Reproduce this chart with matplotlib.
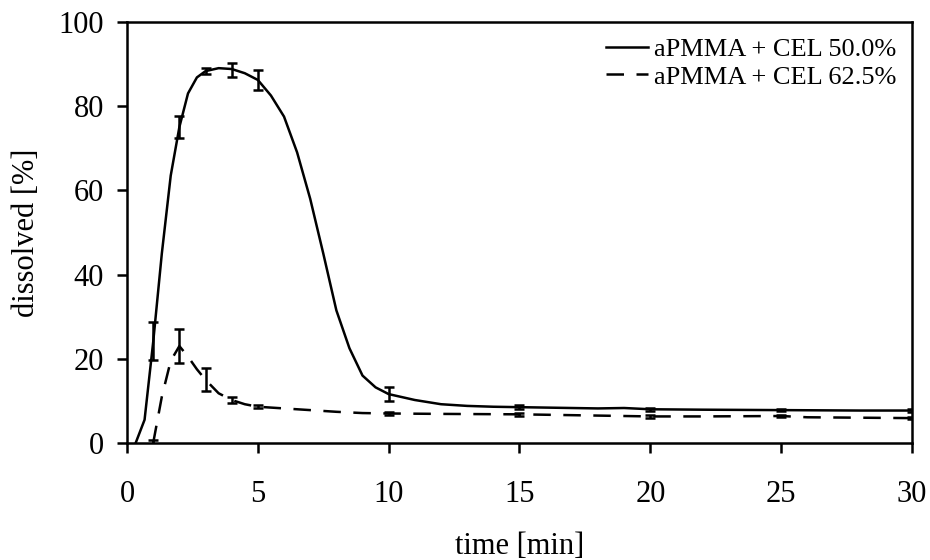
import numpy as np
from matplotlib import pyplot as plt

plt.rcParams['font.family'] = ['Liberation Serif', 'DejaVu Serif']

# smoothed curves
t_50 = [0.33, 0.67, 1.0, 1.33, 1.67, 2.0, 2.33, 2.67, 3.0, 3.5, 4.0, 4.5, 5.0, 5.5, 6.0,
        6.5, 7.0, 7.5, 8.0, 8.5, 9.0, 9.5, 10, 11, 12, 13, 14, 15, 16, 17, 18, 19,
        20, 22, 25, 28, 30]
v_50 = [0, 5.5, 24, 45, 63.5, 75, 83, 86.8, 88.3, 89, 88.8, 87.8, 86.2, 82.5, 77.5,
        69, 58, 45, 31.5, 22.5, 16, 13.2, 11.6, 10.2, 9.2, 8.8, 8.6, 8.5, 8.4, 8.3, 8.2, 8.3,
        8.0, 7.9, 7.8, 7.7, 7.7]

t_625 = [1.0, 1.33, 1.67, 2.0, 2.33, 2.67, 3.0, 3.5, 4.0, 4.5, 5.0, 6, 7, 8, 9, 10,
         12, 15, 17, 20, 22, 25, 26, 30]
v_625 = [0, 11, 19.5, 23, 20.5, 17.5, 15, 11.8, 10.2, 9.2, 8.6, 8.2, 7.8, 7.4, 7.1, 7.0,
         6.9, 6.8, 6.6, 6.3, 6.3, 6.4, 6.1, 5.9]

# measured points with error bars
t_err = [1, 2, 3, 4, 5, 10, 15, 20, 25, 30]
m_50 = [24.2, 75, 88.3, 88.6, 86.2, 11.6, 8.5, 8.0, 7.8, 7.7]
e_50 = [4.5, 2.7, 0.8, 1.7, 2.3, 1.6, 0.4, 0.3, 0.2, 0.4]
m_625 = [0, 23.1, 15, 10.2, 8.6, 7.0, 6.8, 6.3, 6.4, 5.9]
e_625 = [0.8, 4.0, 2.7, 0.7, 0.3, 0.3, 0.3, 0.3, 0.2, 0.2]

fig = plt.figure(figsize=(9.3, 5.6), dpi=100)
ax = fig.add_axes([0.1366, 0.209, 0.844, 0.752])

ax.plot(t_50, v_50, color='black', lw=1.8, label='aPMMA + CEL 50.0%')
ax.plot(t_625, v_625, color='black', lw=1.8, dashes=(7, 5), label='aPMMA + CEL 62.5%')
ax.errorbar(t_err, m_50, yerr=e_50, fmt='none', ecolor='black', elinewidth=1.8,
            capsize=3.5, capthick=1.8)
ax.errorbar(t_err, m_625, yerr=e_625, fmt='none', ecolor='black', elinewidth=1.8,
            capsize=3.5, capthick=1.8)

ax.set_xlim(0, 30)
ax.set_ylim(0, 100)
ax.set_xticks(np.arange(0, 31, 5))
ax.set_yticks(np.arange(0, 101, 20))
for s in ax.spines.values():
    s.set_linewidth(1.8)
ax.tick_params(direction='out', length=7.5, width=1.8, labelsize=22, pad=9)
ax.tick_params(axis='x', pad=19)
ax.set_xlabel('time [min]', fontsize=22, labelpad=17)
ax.set_ylabel('dissolved [%]', fontsize=22, labelpad=13)

ax.legend(loc='upper right', frameon=False, fontsize=19, handlelength=1.6,
          handletextpad=0.2, borderaxespad=0.2, labelspacing=0.15)

plt.savefig('out.png', dpi=100)
